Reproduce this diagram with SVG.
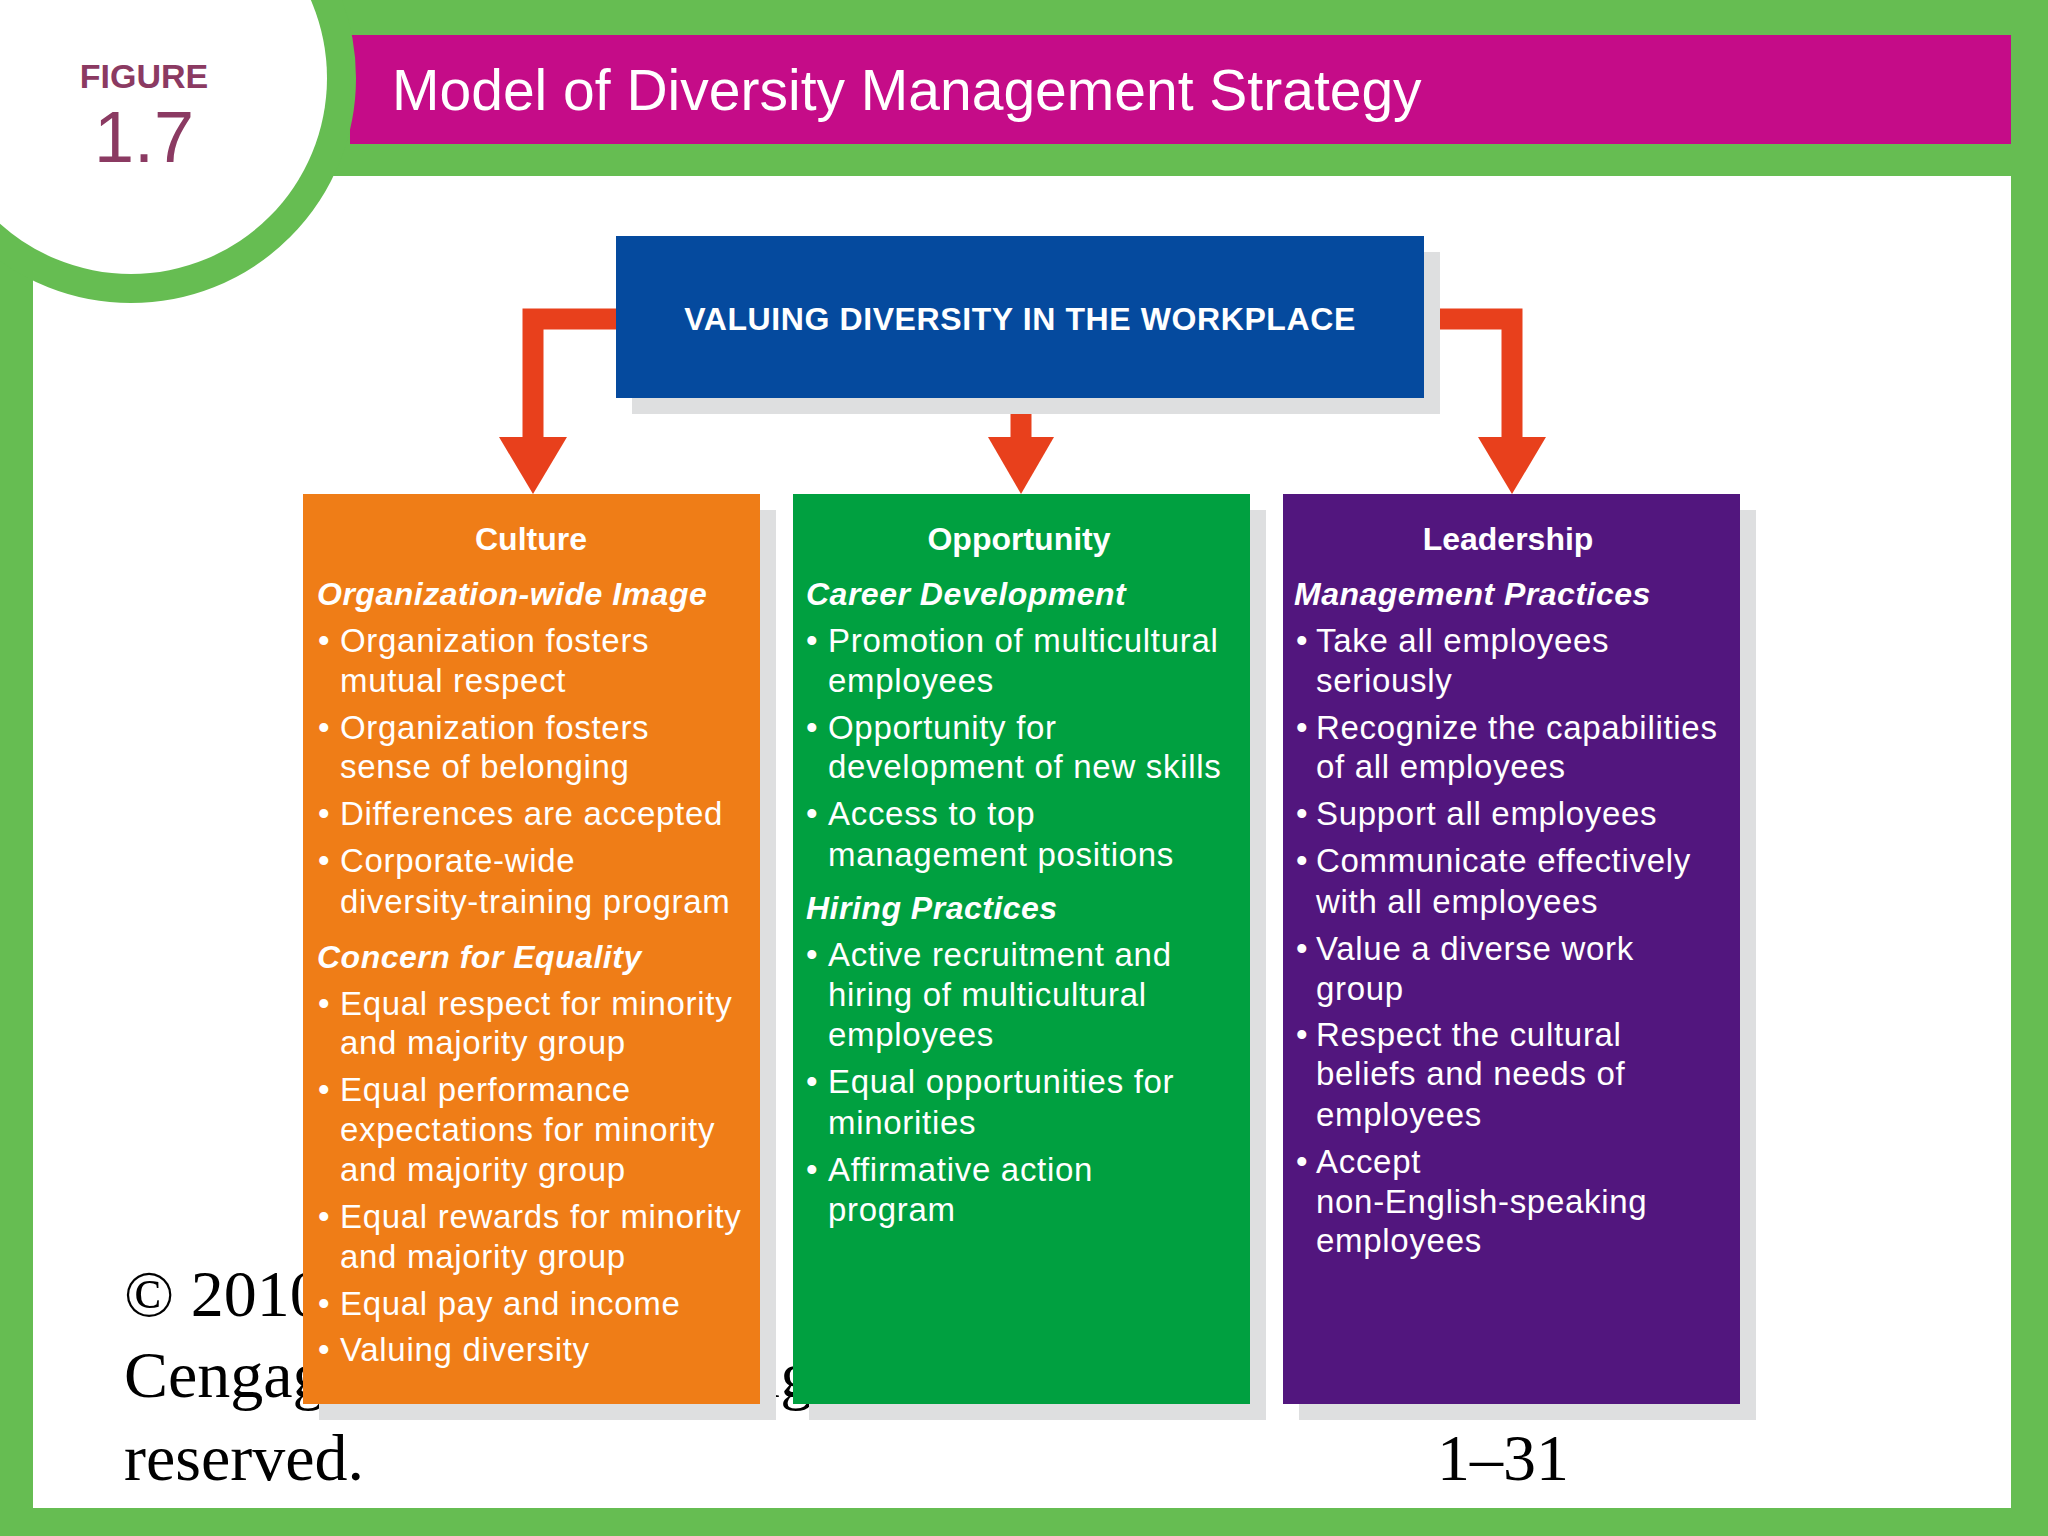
<svg xmlns="http://www.w3.org/2000/svg" width="2048" height="1536" viewBox="0 0 2048 1536">
<style>
.t{font-family:"Liberation Sans",Arial,sans-serif;fill:#fff}
.h{font-size:32px;font-weight:bold;text-anchor:middle}
.s{font-size:32px;font-weight:bold;font-style:italic;letter-spacing:0.5px}
.b{font-size:33px;letter-spacing:0.7px}
.tm{font-family:"Liberation Serif","Times New Roman",serif;font-size:66px;fill:#000}
</style>
<rect width="2048" height="1536" fill="#66bd52"/>
<rect x="33" y="176" width="1978" height="1332" fill="#fff"/>
<rect x="350" y="35" width="1661" height="109" fill="#c50c88"/>
<circle cx="131" cy="78" r="210" fill="none" stroke="#66bd52" stroke-width="30"/>
<circle cx="131" cy="78" r="196" fill="#fff"/>
<text class="t" x="392" y="110" font-size="57">Model of Diversity Management Strategy</text>
<text x="144" y="88" text-anchor="middle" font-family="Liberation Sans,Arial,sans-serif" font-weight="bold" font-size="34" fill="#8b3a62">FIGURE</text>
<text x="144" y="162" text-anchor="middle" font-family="Liberation Sans,Arial,sans-serif" font-size="72" fill="#8b3a62">1.7</text>
<g id="copyright">
<text class="tm" x="124" y="1316">© 2010 South-Western,</text>
<text class="tm" x="124" y="1397">Cengage Learning. All rights</text>
<text class="tm" x="124" y="1480">reserved.</text>
<text class="tm" x="1437" y="1480">1–31</text>
</g>
<g id="connectors" fill="#e8401c">
<path d="M616 319 H533 V437" fill="none" stroke="#e8401c" stroke-width="21"/>
<polygon points="499,437 567,437 533,494"/>
<path d="M1021 398 V437" fill="none" stroke="#e8401c" stroke-width="21"/>
<polygon points="988,437 1054,437 1021,494"/>
<path d="M1424 319 H1512 V437" fill="none" stroke="#e8401c" stroke-width="21"/>
<polygon points="1478,437 1546,437 1512,494"/>
</g>
<g id="top">
<rect x="632" y="252" width="808" height="162" fill="#dedfe0"/>
<rect x="616" y="236" width="808" height="162" fill="#054a9e"/>
<text class="t" x="1020" y="330" font-size="32" font-weight="bold" letter-spacing="0.6" text-anchor="middle">VALUING DIVERSITY IN THE WORKPLACE</text>
</g>
<g id="culture">
<rect x="319" y="510" width="457" height="910" fill="#dedfe0"/>
<rect x="303" y="494" width="457" height="910" fill="#ef7d17"/>
<text class="t h" x="531" y="550">Culture</text>
<text class="t s" x="317" y="605">Organization-wide Image</text>
<g class="t b">
<text x="318" y="652">•</text><text x="340" y="652">Organization fosters</text><text x="340" y="692">mutual respect</text>
<text x="318" y="739">•</text><text x="340" y="739">Organization fosters</text><text x="340" y="778">sense of belonging</text>
<text x="318" y="825">•</text><text x="340" y="825">Differences are accepted</text>
<text x="318" y="872">•</text><text x="340" y="872">Corporate-wide</text><text x="340" y="913">diversity-training program</text>
</g>
<text class="t s" x="317" y="968">Concern for Equality</text>
<g class="t b">
<text x="318" y="1015">•</text><text x="340" y="1015">Equal respect for minority</text><text x="340" y="1054">and majority group</text>
<text x="318" y="1101">•</text><text x="340" y="1101">Equal performance</text><text x="340" y="1141">expectations for minority</text><text x="340" y="1181">and majority group</text>
<text x="318" y="1228">•</text><text x="340" y="1228">Equal rewards for minority</text><text x="340" y="1268">and majority group</text>
<text x="318" y="1315">•</text><text x="340" y="1315">Equal pay and income</text>
<text x="318" y="1361">•</text><text x="340" y="1361">Valuing diversity</text>
</g>
</g>
<g id="opportunity">
<rect x="809" y="510" width="457" height="910" fill="#dedfe0"/>
<rect x="793" y="494" width="457" height="910" fill="#00a040"/>
<text class="t h" x="1019" y="550">Opportunity</text>
<text class="t s" x="806" y="605">Career Development</text>
<g class="t b">
<text x="806" y="652">•</text><text x="828" y="652">Promotion of multicultural</text><text x="828" y="692">employees</text>
<text x="806" y="739">•</text><text x="828" y="739">Opportunity for</text><text x="828" y="778">development of new skills</text>
<text x="806" y="825">•</text><text x="828" y="825">Access to top</text><text x="828" y="866">management positions</text>
</g>
<text class="t s" x="806" y="919">Hiring Practices</text>
<g class="t b">
<text x="806" y="966">•</text><text x="828" y="966">Active recruitment and</text><text x="828" y="1006">hiring of multicultural</text><text x="828" y="1046">employees</text>
<text x="806" y="1093">•</text><text x="828" y="1093">Equal opportunities for</text><text x="828" y="1134">minorities</text>
<text x="806" y="1181">•</text><text x="828" y="1181">Affirmative action</text><text x="828" y="1221">program</text>
</g>
</g>
<g id="leadership">
<rect x="1299" y="510" width="457" height="910" fill="#dedfe0"/>
<rect x="1283" y="494" width="457" height="910" fill="#52167e"/>
<text class="t h" x="1508" y="550">Leadership</text>
<text class="t s" x="1294" y="605">Management Practices</text>
<g class="t b">
<text x="1296" y="652">•</text><text x="1316" y="652">Take all employees</text><text x="1316" y="692">seriously</text>
<text x="1296" y="739">•</text><text x="1316" y="739">Recognize the capabilities</text><text x="1316" y="778">of all employees</text>
<text x="1296" y="825">•</text><text x="1316" y="825">Support all employees</text>
<text x="1296" y="872">•</text><text x="1316" y="872">Communicate effectively</text><text x="1316" y="913">with all employees</text>
<text x="1296" y="960">•</text><text x="1316" y="960">Value a diverse work</text><text x="1316" y="1000">group</text>
<text x="1296" y="1046">•</text><text x="1316" y="1046">Respect the cultural</text><text x="1316" y="1085">beliefs and needs of</text><text x="1316" y="1126">employees</text>
<text x="1296" y="1173">•</text><text x="1316" y="1173">Accept</text><text x="1316" y="1213">non-English-speaking</text><text x="1316" y="1252">employees</text>
</g>
</g>
</svg>
